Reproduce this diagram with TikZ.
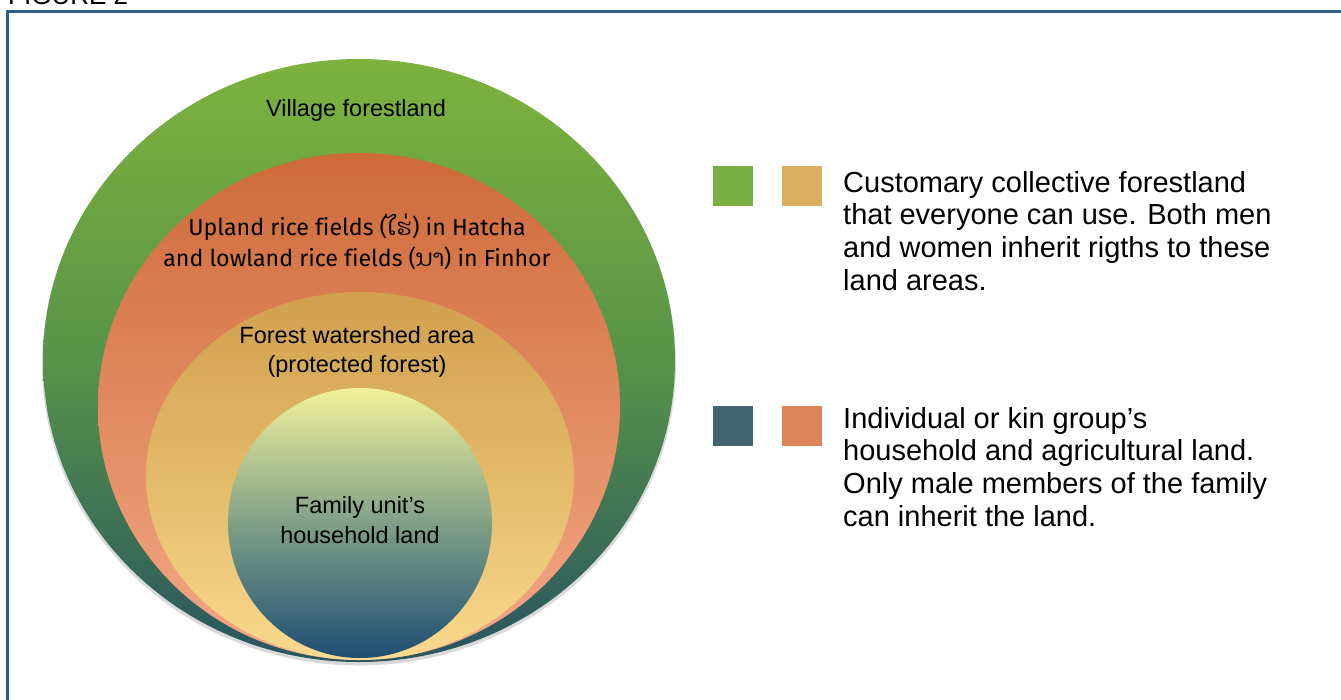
\documentclass[tikz,border=0pt]{standalone}
\usepackage{fontspec}
\setmainfont{Liberation Sans}
\newfontfamily\laofont[Script=Lao]{Dhyana}
\newfontfamily\humfont[Ligatures=NoCommon]{Fira Sans}
\usetikzlibrary{positioning}

\definecolor{frameblue}{HTML}{2B5F88}
\definecolor{forestgreen}{HTML}{7BAE40}
\definecolor{foresttan}{HTML}{D9AE5F}
\definecolor{kinblue}{HTML}{43646E}
\definecolor{kinorange}{HTML}{DD845B}

\tikzset{
  ringlbl/.style={font=\fontsize{23.5}{29.5}\selectfont, align=center, inner sep=0pt},
  laolbl/.style={font=\humfont\fontsize{23.2}{31}\selectfont, align=center, inner sep=0pt},
  swatch/.style={minimum size=40pt, inner sep=0pt},
  legtext/.style={font=\fontsize{29}{32.7}\selectfont, align=left, anchor=north west, inner sep=0pt},
}

\begin{document}
\begin{tikzpicture}[x=1pt,y=-1pt]
  \useasboundingbox (0,0) rectangle (1341,699);
  \node[anchor=base west, inner sep=0pt, font=\fontsize{26}{26}\selectfont] (figlabel) at (8,4.5) {FIGURE 2};
  \draw[frameblue, line width=3pt] (7,11.5) rectangle (1360,720);

  % nested land areas
  \fill[black, opacity=0.15] (359,364) ellipse [x radius=317pt, y radius=301.5pt];
  \shade[top color=forestgreen!95!lime, bottom color={rgb,255:red,40;green,84;blue,96}, middle color={rgb,255:red,88;green,148;blue,72}]
    (359,360.5) ellipse [x radius=316pt, y radius=301.5pt];
  \shade[top color={rgb,255:red,205;green,106;blue,58}, bottom color={rgb,255:red,242;green,168;blue,135}, middle color={rgb,255:red,226;green,138;blue,96}]
    (359,406.5) ellipse [x radius=261pt, y radius=253.5pt];
  \shade[top color={rgb,255:red,208;green,160;blue,78}, bottom color={rgb,255:red,250;green,218;blue,142}, middle color={rgb,255:red,226;green,186;blue,104}]
    (360,476) ellipse [x radius=214pt, y radius=184pt];
  \shade[top color={rgb,255:red,242;green,242;blue,155}, bottom color={rgb,255:red,30;green,78;blue,115}, middle color={rgb,255:red,128;green,160;blue,135}]
    (360,523) ellipse [x radius=132pt, y radius=135pt];

  \node[ringlbl] (village) at (356,110) {Village forestland};
  \node[laolbl] (rice) at (357,241.5) {Upland rice fields ({\laofont ໄຮ່}) in Hatcha\\and lowland rice fields ({\laofont ນາ}) in Finhor};
  \node[ringlbl] (watershed) at (357,352) {Forest watershed area\\(protected forest)};
  \node[ringlbl] (household) at (360,520) {Family unit’s\\household land};

  % legend
  \node[swatch, fill=forestgreen] (swgreen) at (733,186) {};
  \node[swatch, fill=foresttan, right=29pt of swgreen] (swtan) {};
  \node[swatch, fill=kinblue] (swblue) at (733,426) {};
  \node[swatch, fill=kinorange, right=29pt of swblue] (sworange) {};

  \node[legtext] (collective) at (843,171) {Customary collective forestland\\that everyone can use. Both men\\and women inherit rigths to these\\land areas.};
  \node[legtext] (kingroup) at (843,407) {Individual or kin group’s\\household and agricultural land.\\Only male members of the family\\can inherit the land.};
\end{tikzpicture}
\end{document}
